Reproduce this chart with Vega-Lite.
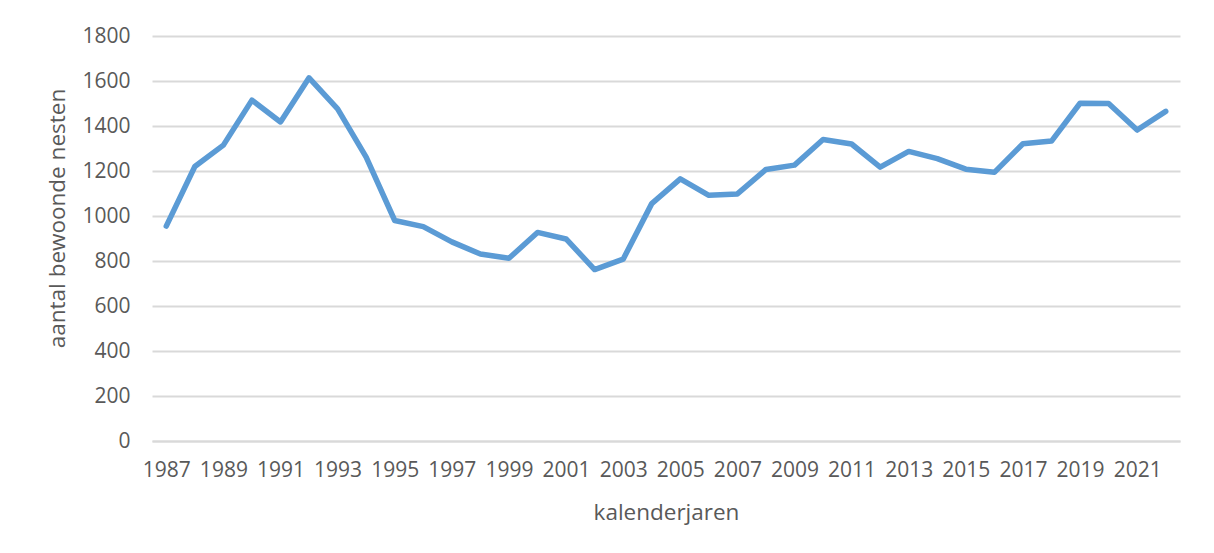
{
  "$schema": "https://vega.github.io/schema/vega-lite/v6.json",
  "autosize": "none",
  "width": 1028,
  "height": 405,
  "padding": {"left": 152, "top": 36, "right": 34, "bottom": 112},
  "background": "white",
  "config": {
    "view": {"stroke": null},
    "font": "Open Sans",
    "axis": {"labelFont": "Open Sans", "titleFont": "Open Sans", "labelColor": "#595959", "titleColor": "#595959", "titleFontWeight": "normal"}
  },
  "data": {
    "values": [
      {"jaar": "1987", "nesten": 955},
      {"jaar": "1988", "nesten": 1220},
      {"jaar": "1989", "nesten": 1315},
      {"jaar": "1990", "nesten": 1515},
      {"jaar": "1991", "nesten": 1418},
      {"jaar": "1992", "nesten": 1614},
      {"jaar": "1993", "nesten": 1476},
      {"jaar": "1994", "nesten": 1262},
      {"jaar": "1995", "nesten": 980},
      {"jaar": "1996", "nesten": 953},
      {"jaar": "1997", "nesten": 885},
      {"jaar": "1998", "nesten": 831},
      {"jaar": "1999", "nesten": 812},
      {"jaar": "2000", "nesten": 927},
      {"jaar": "2001", "nesten": 898},
      {"jaar": "2002", "nesten": 762},
      {"jaar": "2003", "nesten": 808},
      {"jaar": "2004", "nesten": 1055},
      {"jaar": "2005", "nesten": 1165},
      {"jaar": "2006", "nesten": 1092},
      {"jaar": "2007", "nesten": 1098},
      {"jaar": "2008", "nesten": 1207},
      {"jaar": "2009", "nesten": 1226},
      {"jaar": "2010", "nesten": 1340},
      {"jaar": "2011", "nesten": 1320},
      {"jaar": "2012", "nesten": 1217},
      {"jaar": "2013", "nesten": 1287},
      {"jaar": "2014", "nesten": 1255},
      {"jaar": "2015", "nesten": 1208},
      {"jaar": "2016", "nesten": 1194},
      {"jaar": "2017", "nesten": 1321},
      {"jaar": "2018", "nesten": 1333},
      {"jaar": "2019", "nesten": 1501},
      {"jaar": "2020", "nesten": 1500},
      {"jaar": "2021", "nesten": 1382},
      {"jaar": "2022", "nesten": 1465}
    ]
  },
  "mark": {"type": "line", "color": "#5b9bd5", "strokeWidth": 5.5, "strokeJoin": "round", "strokeCap": "round"},
  "encoding": {
    "x": {
      "field": "jaar",
      "type": "ordinal",
      "scale": {"type": "point", "padding": 0.5},
      "axis": {
        "title": "kalenderjaren",
        "values": ["1987","1989","1991","1993","1995","1997","1999","2001","2003","2005","2007","2009","2011","2013","2015","2017","2019","2021"],
        "labelAngle": 0,
        "labelFontSize": 21,
        "labelPadding": 18,
        "labelOverlap": false,
        "labelAlign": "center",
        "ticks": false,
        "domain": true,
        "domainColor": "#d9d9d9",
        "domainWidth": 2,
        "grid": false,
        "titleFontSize": 22.5,
        "titleY": 71,
        "titleBaseline": "middle"
      }
    },
    "y": {
      "field": "nesten",
      "type": "quantitative",
      "scale": {"domain": [0, 1800], "nice": false},
      "axis": {
        "title": "aantal bewoonde nesten",
        "values": [0, 200, 400, 600, 800, 1000, 1200, 1400, 1600, 1800],
        "format": "d",
        "labelFontSize": 21,
        "labelPadding": 22,
        "ticks": false,
        "domain": false,
        "grid": true,
        "gridColor": "#d9d9d9",
        "gridWidth": 2,
        "titleFontSize": 22.5,
        "titleAngle": -90,
        "titleAlign": "center",
        "titleBaseline": "middle",
        "titleX": -95,
        "titleY": 182
      }
    }
  }
}
